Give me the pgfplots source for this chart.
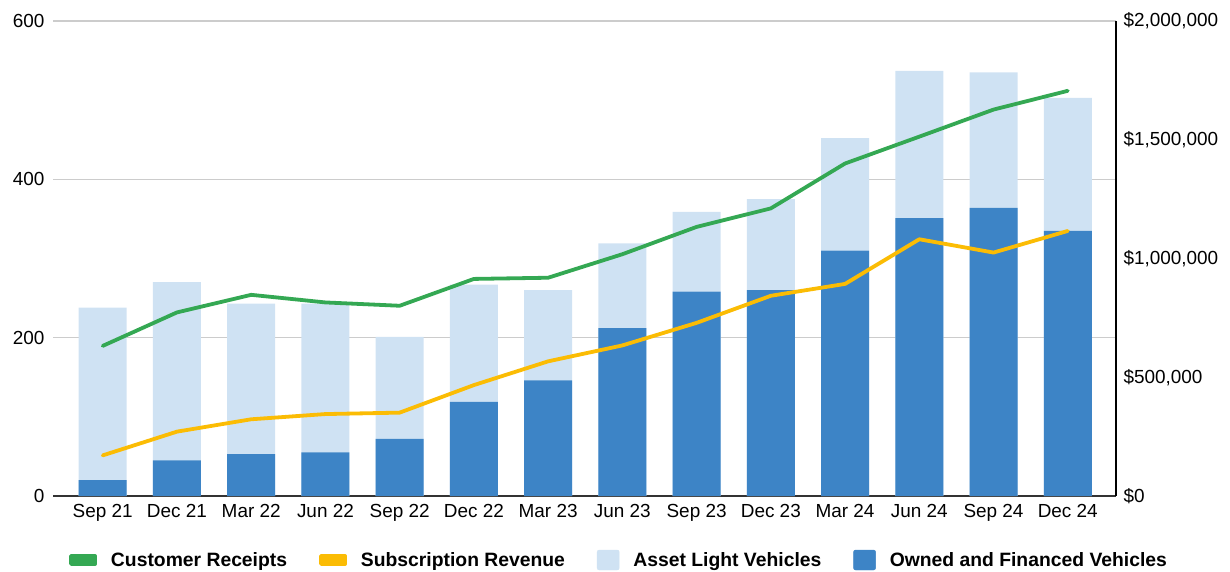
\documentclass[border=0pt]{standalone}
\usepackage{fontspec}
\setmainfont{Liberation Sans}
\usepackage{pgfplots}
\usepackage{pgfplotstable}
\pgfplotsset{compat=1.18}
\definecolor{cgreen}{HTML}{34A853}
\definecolor{cyellow}{HTML}{FBBC04}
\definecolor{cdark}{HTML}{3D84C6}
\definecolor{clight}{HTML}{CFE2F3}
\definecolor{cgrid}{HTML}{CCCCCC}
\pgfplotstableread{
x dark light
0 20 218
1 45 225
2 53 190
3 55 188
4 72 129
5 119 148
6 146 114
7 212 107
8 258 101
9 260 115
10 310 142
11 351 186
12 364 171
13 335 168
}\bars
\pgfplotstableread{
x receipts subs
0 632000 171000
1 773000 271000
2 847000 323000
3 815000 345000
4 801000 351000
5 914000 467000
6 919000 567000
7 1018000 634000
8 1133000 729000
9 1211000 843000
10 1400000 893000
11 1513000 1081000
12 1627000 1025000
13 1706000 1116000
}\lines
\begin{document}
\begin{tikzpicture}
\begin{axis}[name=ax1, scale only axis, width=1063bp, height=475bp,
  xmin=-0.67, xmax=13.65, ymin=0, ymax=600, enlargelimits=false,
  ybar stacked, bar width=48bp,
  xtick={0,...,13},
  xticklabels={Sep 21,Dec 21,Mar 22,Jun 22,Sep 22,Dec 22,Mar 23,Jun 23,Sep 23,Dec 23,Mar 24,Jun 24,Sep 24,Dec 24},
  ytick={0,200,400,600},
  ymajorgrids, grid style={cgrid, line width=1.2bp},
  axis x line*=bottom, axis y line*=left,
  y axis line style={draw=none},
  x axis line style={-, draw=black!80, line width=1.3bp},
  major tick length=0pt,
  tick label style={font=\fontsize{19}{22}\selectfont, text=black},
  /pgf/number format/assume math mode=true,
  xticklabel style={yshift=-5bp},
  yticklabel style={xshift=-5bp},
]
\addplot[fill=clight, draw=none] table[x=x, y=dark] {\bars};
\end{axis}
\begin{axis}[name=ax0, at={(ax1.south west)}, anchor=south west, scale only axis, width=1063bp, height=475bp,
  xmin=-0.67, xmax=13.65, ymin=0, ymax=600, enlargelimits=false,
  ybar stacked, bar width=48bp, axis lines=none]
\addplot[fill=cdark, draw=none] table[x=x, y=dark] {\bars};
\addplot[fill=clight, draw=none] table[x=x, y=light] {\bars};
\end{axis}
\begin{axis}[name=ax2, at={(ax1.south west)}, anchor=south west, scale only axis, width=1063bp, height=475bp,
  xmin=-0.67, xmax=13.65, ymin=0, ymax=2000000, enlargelimits=false,
  axis x line=none, axis y line*=right,
  y axis line style={-, draw=black, line width=1.3bp},
  major tick length=0pt,
  scaled y ticks=false,
  ytick={0,500000,1000000,1500000,2000000},
  yticklabels={{\$0},{\$500,000},{\$1,000,000},{\$1,500,000},{\$2,000,000}},
  yticklabel style={font=\fontsize{19}{22}\selectfont, text=black, xshift=4bp},
  legend columns=4,
  legend style={at={(0,0)}, anchor=west, xshift=16bp, yshift=-64bp, draw=none, inner sep=0pt,
    font=\bfseries\fontsize{19.4}{22}\selectfont, text=black,
    nodes={inner sep=0pt},
    /tikz/every odd column/.append style={column sep=14bp},
    /tikz/every even column/.append style={column sep=32bp}},
]
\addplot[cgreen, line width=3.8bp, line join=round, line cap=round,
  legend image code/.code={\fill[cgreen] (0bp,-4bp) rectangle (24bp,4bp);}] table[x=x, y=receipts] {\lines};
\addlegendentry{Customer Receipts}
\addplot[cyellow, line width=3.8bp, line join=round, line cap=round,
  legend image code/.code={\fill[cyellow] (0bp,-4bp) rectangle (24bp,4bp);}] table[x=x, y=subs] {\lines};
\addlegendentry{Subscription Revenue}
\addlegendimage{legend image code/.code={\fill[clight, rounded corners=2bp] (0bp,-10bp) rectangle (22bp,10bp);}}
\addlegendentry{Asset Light Vehicles}
\addlegendimage{legend image code/.code={\fill[cdark, rounded corners=2bp] (0bp,-10bp) rectangle (22bp,10bp);}}
\addlegendentry{Owned and Financed Vehicles}
\end{axis}
\pgfresetboundingbox
\path ([xshift=-53bp,yshift=-76bp]ax1.south west) rectangle ([xshift=114bp,yshift=21bp]ax1.north east);
\end{tikzpicture}
\end{document}
